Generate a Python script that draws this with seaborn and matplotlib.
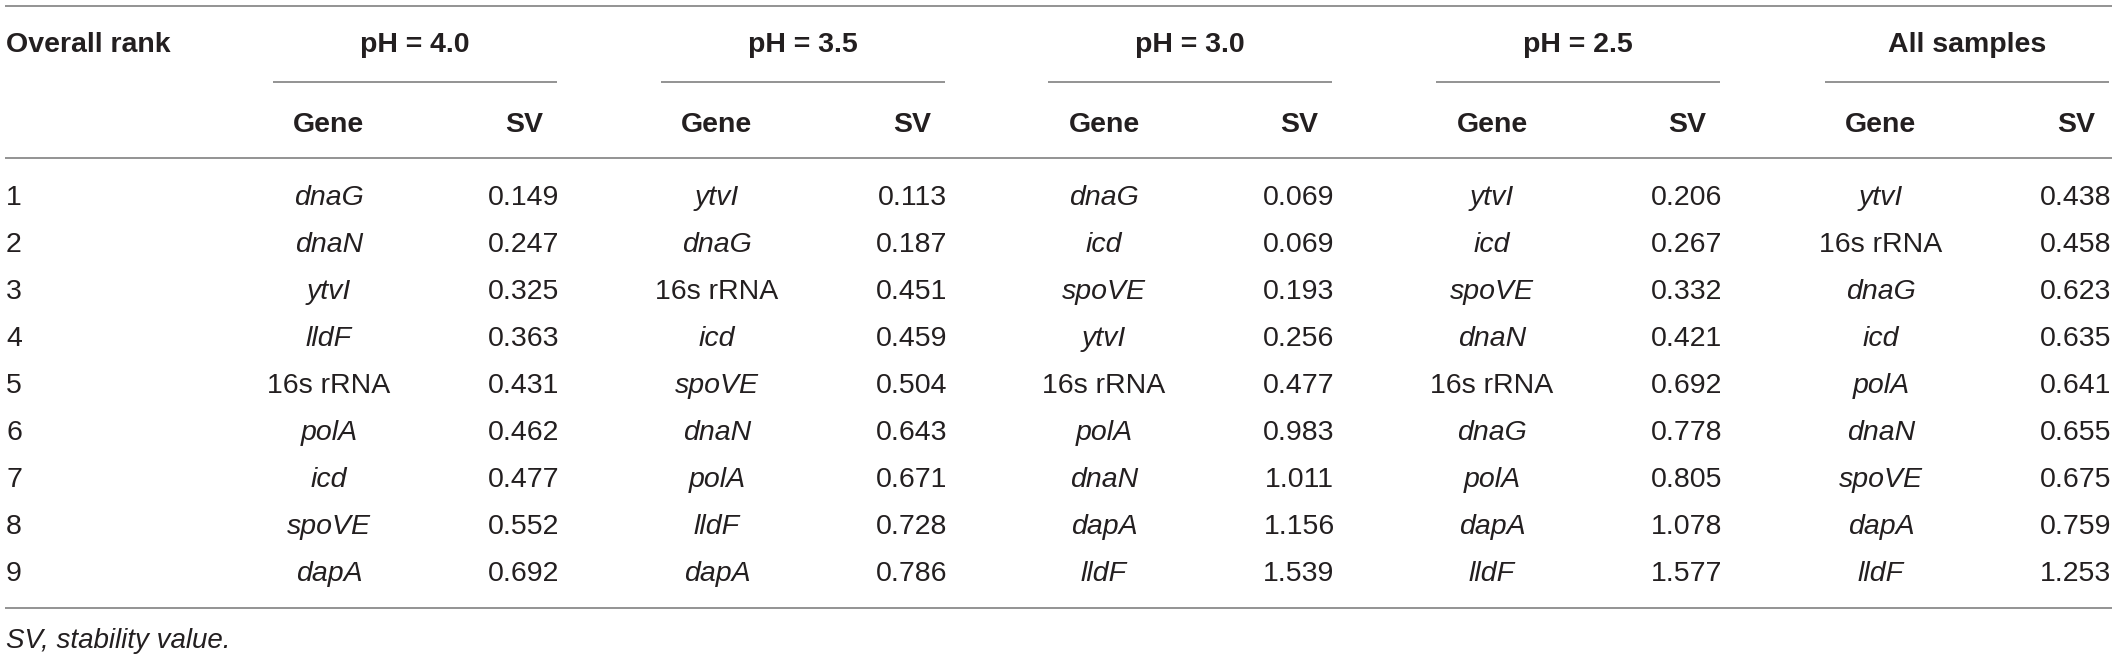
import pandas as pd
import matplotlib
matplotlib.use("Agg")
import matplotlib.pyplot as plt
import seaborn as sns

# table data
ranks = [1, 2, 3, 4, 5, 6, 7, 8, 9]
groups = ["pH = 4.0", "pH = 3.5", "pH = 3.0", "pH = 2.5", "All samples"]
genes_ph40 = ["dnaG", "dnaN", "ytvI", "lldF", "16s rRNA", "polA", "icd", "spoVE", "dapA"]
sv_ph40 = [0.149, 0.247, 0.325, 0.363, 0.431, 0.462, 0.477, 0.552, 0.692]
genes_ph35 = ["ytvI", "dnaG", "16s rRNA", "icd", "spoVE", "dnaN", "polA", "lldF", "dapA"]
sv_ph35 = [0.113, 0.187, 0.451, 0.459, 0.504, 0.643, 0.671, 0.728, 0.786]
genes_ph30 = ["dnaG", "icd", "spoVE", "ytvI", "16s rRNA", "polA", "dnaN", "dapA", "lldF"]
sv_ph30 = [0.069, 0.069, 0.193, 0.256, 0.477, 0.983, 1.011, 1.156, 1.539]
genes_ph25 = ["ytvI", "icd", "spoVE", "dnaN", "16s rRNA", "dnaG", "polA", "dapA", "lldF"]
sv_ph25 = [0.206, 0.267, 0.332, 0.421, 0.692, 0.778, 0.805, 1.078, 1.577]
genes_all = ["ytvI", "16s rRNA", "dnaG", "icd", "polA", "dnaN", "spoVE", "dapA", "lldF"]
sv_all = [0.438, 0.458, 0.623, 0.635, 0.641, 0.655, 0.675, 0.759, 1.253]
footnote = "SV, stability value."

gene_cols = [genes_ph40, genes_ph35, genes_ph30, genes_ph25, genes_all]
sv_cols = [sv_ph40, sv_ph35, sv_ph30, sv_ph25, sv_all]

df = pd.DataFrame({"rank": ranks})
for g, genes, svs in zip(groups, gene_cols, sv_cols):
    df[g + " gene"] = genes
    df[g + " sv"] = svs

sns.set_theme(style="white")
plt.rcParams["font.family"] = ["Liberation Sans", "DejaVu Sans"]

W, H = 2117, 657
fig = plt.figure(figsize=(W / 100, H / 100), dpi=100)
ax = fig.add_axes([0, 0, 1, 1])
ax.set_xlim(0, W)
ax.set_ylim(H, 0)
ax.axis("off")

fs = 20.5
txt = "#231f20"
rule = "#8a8a8a"
group_x = [415, 803, 1190, 1578, 1967]
gene_off, sv_off, half = -86, 109, 142

# rules
for y in [6, 158, 608]:
    ax.plot([5, 2112], [y, y], color=rule, lw=1.3, solid_capstyle="butt")
for gx in group_x:
    ax.plot([gx - half, gx + half], [82, 82], color=rule, lw=1.3, solid_capstyle="butt")

# header
ax.text(6, 52, "Overall rank", fontsize=fs, fontweight="bold", color=txt, ha="left", va="baseline")
for gx, g in zip(group_x, groups):
    ax.text(gx, 52, g, fontsize=fs, fontweight="bold", color=txt, ha="center", va="baseline")
    ax.text(gx + gene_off, 132, "Gene", fontsize=fs, fontweight="bold", color=txt, ha="center", va="baseline")
    ax.text(gx + sv_off, 132, "SV", fontsize=fs, fontweight="bold", color=txt, ha="center", va="baseline")

# body
for i, row in df.iterrows():
    yb = 205 + 47 * i
    ax.text(6, yb, str(row["rank"]), fontsize=fs, color=txt, ha="left", va="baseline")
    for gx, g in zip(group_x, groups):
        gene = row[g + " gene"]
        style = "normal" if "rRNA" in gene else "italic"
        ax.text(gx + gene_off, yb, gene, fontsize=fs, fontstyle=style, color=txt,
                ha="center", va="baseline")
        ax.text(gx + sv_off, yb, f"{row[g + ' sv']:.3f}", fontsize=fs, color=txt,
                ha="center", va="baseline")

ax.text(6, 648, footnote, fontsize=fs - 0.5, fontstyle="italic", color=txt, ha="left", va="baseline")

fig.savefig("out.png", dpi=100)
